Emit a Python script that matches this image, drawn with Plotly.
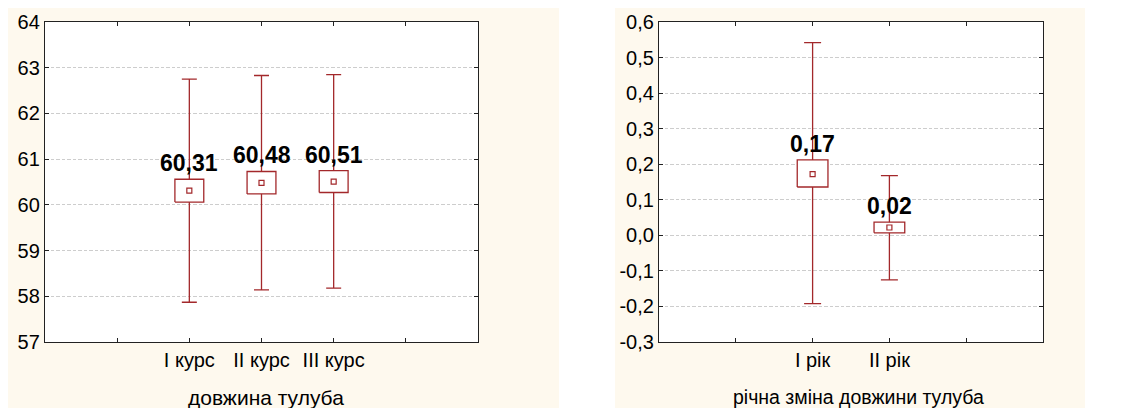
import plotly.graph_objects as go

# page has an 8px body margin; the figure is sized to fill the rest of the window
OFF = 8
W, H = 1146 - OFF, 408 - OFF
RED = "#A3282B"
BEIGE = "#FEF9EE"
GRID = "#CDCDCD"
FONT = "Liberation Sans, Arial, sans-serif"

# ---- left panel data: довжина тулуба ----
cats1 = ["I курс", "II курс", "III курс"]
mean1 = [60.31, 60.48, 60.51]
box_lo1 = [60.06, 60.24, 60.27]
box_hi1 = [60.56, 60.73, 60.75]
wh_lo1 = [57.87, 58.14, 58.18]
wh_hi1 = [62.75, 62.83, 62.85]
yticks1 = [57, 58, 59, 60, 61, 62, 63, 64]
yticktext1 = ["57", "58", "59", "60", "61", "62", "63", "64"]

# ---- right panel data: річна зміна довжини тулуба ----
cats2 = ["I рік", "II рік"]
mean2 = [0.172, 0.022]
box_lo2 = [0.136, 0.007]
box_hi2 = [0.212, 0.037]
wh_lo2 = [-0.192, -0.125]
wh_hi2 = [0.542, 0.168]
yticks2 = [-0.3, -0.2, -0.1, 0.0, 0.1, 0.2, 0.3, 0.4, 0.5, 0.6]
yticktext2 = ["-0,3", "-0,2", "-0,1", "0,0", "0,1", "0,2", "0,3", "0,4", "0,5", "0,6"]


def px(sx):
    return max(0.0, min(1.0, (sx - OFF) / W))


def py(sy):
    return max(0.0, min(1.0, (H - (sy - OFF)) / H))


fig = go.Figure()


def fmt(v):
    return f"{v:.2f}".replace(".", ",")


def add_panel(cats, mean, blo, bhi, wlo, whi, xa, ya, offset, capw):
    xs = [i + offset for i in range(len(cats))]
    # whiskers
    fig.add_trace(go.Scatter(
        x=xs, y=mean, mode="markers", xaxis=xa, yaxis=ya,
        marker=dict(size=1, color="rgba(0,0,0,0)"),
        error_y=dict(type="data", symmetric=False,
                     array=[h - m for h, m in zip(whi, mean)],
                     arrayminus=[m - l for m, l in zip(mean, wlo)],
                     color=RED, thickness=1.3, width=capw),
        showlegend=False, hoverinfo="skip"))
    # boxes
    for x, lo, hi in zip(xs, blo, bhi):
        fig.add_trace(go.Scatter(
            x=[x - 0.2, x + 0.2, x + 0.2, x - 0.2, x - 0.2],
            y=[lo, lo, hi, hi, lo], mode="lines", fill="toself",
            fillcolor="white", line=dict(color=RED, width=1.3),
            xaxis=xa, yaxis=ya, showlegend=False, hoverinfo="skip"))
    # mean points
    fig.add_trace(go.Scatter(
        x=xs, y=mean, mode="markers", xaxis=xa, yaxis=ya,
        marker=dict(symbol="square", size=5, color="white",
                    line=dict(color=RED, width=1.2)),
        showlegend=False, hoverinfo="skip"))
    # value labels
    for x, m, hi in zip(xs, mean, bhi):
        fig.add_annotation(x=x, y=hi, xref=xa, yref=ya, text=fmt(m),
                           showarrow=False, yanchor="bottom", xanchor="center", yshift=1,
                           font=dict(family=FONT, size=23, color="black",
                                     weight="bold"))
    return xs


xs1 = add_panel(cats1, mean1, box_lo1, box_hi1, wh_lo1, wh_hi1, "x", "y", 2, 7.5)
xs2 = add_panel(cats2, mean2, box_lo2, box_hi2, wh_lo2, wh_hi2, "x2", "y2", 2, 8.5)

dom_y = [py(342), py(22)]
axis_common = dict(showline=True, linecolor="#222", linewidth=1.3, mirror="ticks",
                   ticks="inside", ticklen=4, tickcolor="#222", zeroline=False,
                   automargin=False,
                   tickfont=dict(family=FONT, size=20, color="black"))
grid_common = dict(showgrid=True, gridcolor=GRID, griddash="3.5px,2px", gridwidth=1)

fig.update_layout(
    template="none",
    width=W, height=H, autosize=False,
    margin=dict(l=0, r=0, t=0, b=0, pad=0),
    paper_bgcolor="white", plot_bgcolor="white",
    xaxis=dict(domain=[px(45), px(478)], range=[0, 6],
               tickvals=[1] + xs1 + [5], ticktext=[""] + cats1 + [""],
               showgrid=False, anchor="y", **axis_common),
    yaxis=dict(domain=dom_y, range=[57, 64], tickvals=yticks1, ticktext=yticktext1,
               anchor="x", **grid_common, **axis_common),
    xaxis2=dict(domain=[px(659), px(1043)], range=[0, 5],
                tickvals=[1] + xs2 + [4], ticktext=[""] + cats2 + [""],
                showgrid=False, anchor="y2", **axis_common),
    yaxis2=dict(domain=dom_y, range=[-0.3, 0.6], tickvals=yticks2, ticktext=yticktext2,
                anchor="x2", **grid_common, **axis_common),
)

# beige panel backgrounds + white plot areas
fig.add_shape(type="rect", xref="paper", yref="paper", x0=px(8), x1=px(559),
              y0=0, y1=1, fillcolor=BEIGE, line_width=0, layer="below")
fig.add_shape(type="rect", xref="paper", yref="paper", x0=px(615), x1=px(1085),
              y0=0, y1=1, fillcolor=BEIGE, line_width=0, layer="below")
fig.add_shape(type="rect", xref="x domain", yref="y domain", x0=0, x1=1, y0=0, y1=1,
              fillcolor="white", line_width=0, layer="below")
fig.add_shape(type="rect", xref="x2 domain", yref="y2 domain", x0=0, x1=1, y0=0, y1=1,
              fillcolor="white", line_width=0, layer="below")

# axis titles
fig.add_annotation(x=px(266), y=py(397), xref="paper", yref="paper",
                   text="довжина тулуба", showarrow=False, yanchor="middle", xanchor="center",
                   font=dict(family=FONT, size=21, color="black"))
fig.add_annotation(x=px(858), y=py(397), xref="paper", yref="paper",
                   text="річна зміна довжини тулуба", showarrow=False, yanchor="middle",
                   xanchor="center",
                   font=dict(family=FONT, size=19.5, color="black"))

fig.write_html("out.html")
